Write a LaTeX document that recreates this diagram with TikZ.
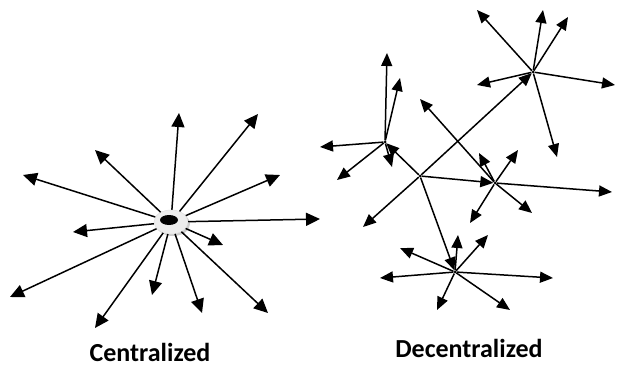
\documentclass[tikz,border=0pt]{standalone}
\usepackage{fontspec}
\setmainfont{Carlito}
\usetikzlibrary{arrows.meta,shapes.geometric,shadows}
\begin{document}
\begin{tikzpicture}[x=1pt,y=-1pt,
  arr/.style={line width=1.5pt,-{Triangle[length=13pt,width=11pt]}},
  arrbig/.style={line width=1.5pt,-{Triangle[length=14pt,width=13pt]}},
  ring/.style={ellipse,minimum width=34pt,minimum height=24pt,inner sep=0pt,fill=gray!14,draw=gray!25,line width=0.5pt,drop shadow={opacity=0.4,shadow xshift=2pt,shadow yshift=-2pt}},
  core/.style={ellipse,minimum width=18pt,minimum height=10pt,inner sep=0pt,fill=black},
  hubdot/.style={circle,fill=black,inner sep=0pt,minimum size=3pt},
  lbl/.style={anchor=base,inner sep=0pt,font=\bfseries\fontsize{26}{30}\selectfont}]
\useasboundingbox (0,0) rectangle (617,366);
% centralized
\node[ring] (hub) at (171,222) {};
\node[core] (core) at (169,220) {};
\foreach \n/\x/\y in {1/179/113,2/258/114,3/95/150,4/23/175,5/280/175,6/320/219,7/73/232,8/223/245,9/10/297,10/95/328,11/152/295,12/202/313,13/268/313}{
  \coordinate (L\n) at (\x,\y);
  \draw[arrbig] (hub) -- (L\n);
}
% decentralized hubs
\node[hubdot] (A) at (533,72) {};
\node[hubdot] (B) at (385,142) {};
\node[hubdot] (C) at (420,176) {};
\node[hubdot] (D) at (495,183) {};
\node[hubdot] (E) at (455,272) {};
\coordinate (CL) at (363,227);
\draw[arr] (C) -- (A);
\draw[arr] (C) -- (B);
\draw[arr] (C) -- (D);
\draw[arr] (C) -- (E);
\draw[arr] (C) -- (CL);
\foreach \n/\x/\y in {1/477/10,2/543/10,3/568/17,4/477/85,5/615/85,6/557/157}{
  \coordinate (A\n) at (\x,\y);
  \draw[arr] (A) -- (A\n);
}
\foreach \n/\x/\y in {1/387/53,2/400/78,3/320/147,4/337/180,5/392/167}{
  \coordinate (B\n) at (\x,\y);
  \draw[arr] (B) -- (B\n);
}
\foreach \n/\x/\y in {1/420/99,2/479/153,3/518/150,4/612/192,5/532/213,6/470/223}{
  \coordinate (D\n) at (\x,\y);
  \draw[arr] (D) -- (D\n);
}
\foreach \n/\x/\y in {1/458/235,2/488/235,3/400/248,4/380/278,5/553/278,6/437/310,7/510/310}{
  \coordinate (E\n) at (\x,\y);
  \draw[arr] (E) -- (E\n);
}
% labels
\node[lbl] (lc) at (150,361) {Centralized};
\node[lbl] (ld) at (469,357) {Decentralized};
\end{tikzpicture}
\end{document}
